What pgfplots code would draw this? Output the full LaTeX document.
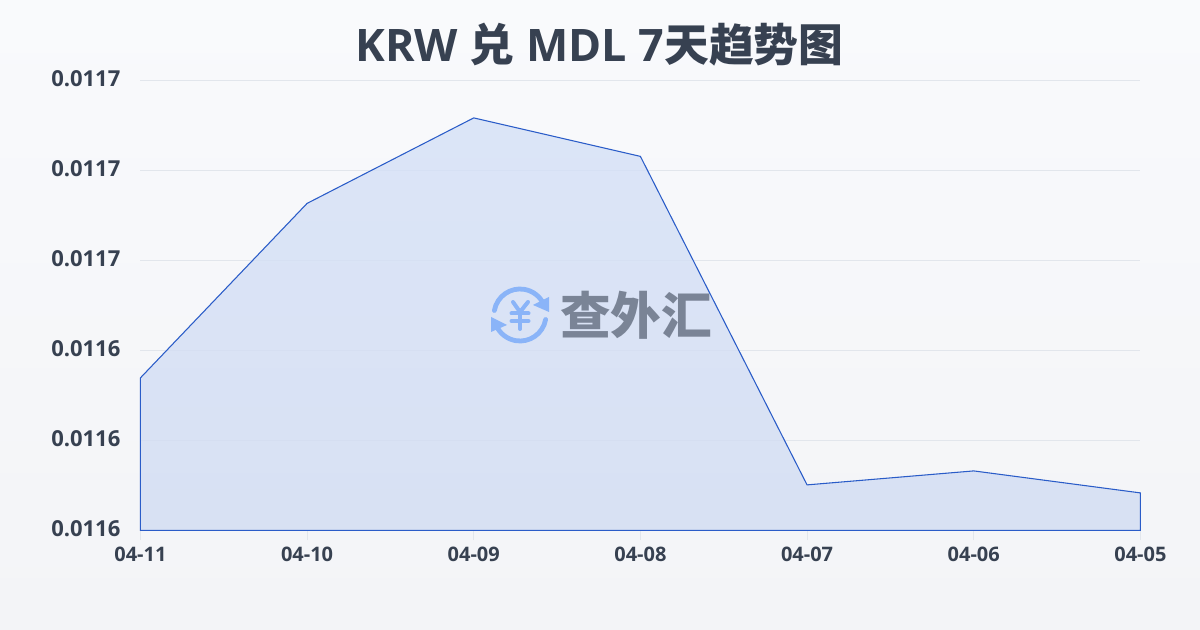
\documentclass[border=0pt]{standalone}
\usepackage{pgfplots}
\usepackage{fontspec}
\pgfplotsset{compat=1.18}
\setmainfont{Open Sans}[BoldFont=* Bold]
\newfontfamily\cjk{Noto Sans CJK SC}
\definecolor{bgtop}{HTML}{F9FAFC}
\definecolor{bgbot}{HTML}{F3F4F7}
\definecolor{ink}{HTML}{374151}
\definecolor{gridc}{HTML}{E2E6EC}
\definecolor{linec}{HTML}{2A5CC8}
\definecolor{wmblue}{HTML}{8AB4F8}
\definecolor{wmgrey}{HTML}{7A8496}
\definecolor{filltop}{RGB}{212,224,247}
\definecolor{fillbot}{RGB}{210,220,242}
\pgfplotstableread{
x y
0 0.01162083
1 0.01167900
2 0.01170750
3 0.01169467
4 0.01158517
5 0.01158983
6 0.01158250
}\ratetable
\begin{document}
\begin{tikzpicture}[x=0.75pt,y=-0.75pt]
\path[use as bounding box] (0,0) rectangle (1200,630);
\shade[top color=bgtop,bottom color=bgbot] (0,0) rectangle (1200,630);
\begin{axis}[
  at={(105.3pt,-397.8pt)}, anchor=south west,
  scale only axis, width=750pt, height=337.5pt,
  xmin=0, xmax=6, ymin=0.01157, ymax=0.01172,
  axis line style={draw=none},
  xtick=data,
  xticklabels={04-11,04-10,04-09,04-08,04-07,04-06,04-05},
  ytick={0.01157,0.01160,0.01163,0.01166,0.01169,0.01172},
  yticklabel style={/pgf/number format/fixed,/pgf/number format/precision=4,/pgf/number format/fixed zerofill,/pgf/number format/assume math mode=true,font=\fontsize{16.5pt}{18pt}\selectfont\bfseries,text=ink,xshift=-4pt,yshift=1pt},
  scaled y ticks=false,
  xticklabel style={font=\fontsize{15pt}{16pt}\selectfont\bfseries,text=ink,yshift=-1.5pt},
  ymajorgrids, grid style={gridc,line width=0.75pt},
  major tick length=7.5pt,
  tick style={gridc,line width=0.75pt},
  ytick style={draw=none},
  tick align=outside,
  xtick pos=bottom, ytick pos=left,
  clip=false,
]
\addplot[draw=linec,line width=0.8pt,top color=filltop,bottom color=fillbot,fill opacity=0.8] table[x=x,y=y] {\ratetable} |- (axis cs:0,0.01157) -- cycle;
\end{axis}
\node[text=ink,font=\fontsize{33.6pt}{42pt}\selectfont\bfseries] at (599.5,45) {KRW {\cjk 兑} MDL 7{\cjk 天趋势图}};
\begin{scope}[wmblue,line width=3.6pt,line cap=round]
\draw (520,315) ++(190:26) arc[start angle=190,end angle=335,radius=26];
\draw (520,315) ++(10:26) arc[start angle=10,end angle=155,radius=26];
\fill (549,297) -- (549,312) -- (533,305) -- cycle;
\fill (491,317) -- (491,332) -- (507,325) -- cycle;
\draw[line width=3pt] (513,302) -- (520,312) -- (528,302);
\draw[line width=3pt] (511.5,313.5) -- (528.5,313.5);
\draw[line width=3pt] (511.5,321) -- (528.5,321);
\draw[line width=3pt] (520,312) -- (520,329);
\end{scope}
\node[text=wmgrey,font=\fontsize{38pt}{42pt}\selectfont\cjk\bfseries,anchor=center] at (636,315) {查外汇};
\end{tikzpicture}
\end{document}
